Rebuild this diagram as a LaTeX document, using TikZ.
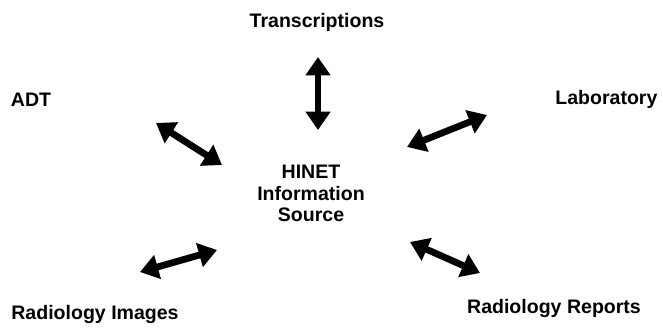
\documentclass[tikz,border=0pt]{standalone}
\usepackage{fontspec}
\setmainfont{Liberation Sans}
\usepackage{tikz}
\usetikzlibrary{arrows.meta, positioning}

\begin{document}
\begin{tikzpicture}[
    labelnode/.style={inner sep=0pt, align=center, font=\fontsize{13.9}{15.3}\selectfont\bfseries},
    arrow/.style={{Triangle[length=13pt, width=17pt]}-{Triangle[length=13pt, width=17pt]}, line width=4.8pt, black}
]
    \useasboundingbox (0,0) rectangle (16.575,-8.225);

    % Central Source
    \node[labelnode] (hinet) at (7.775,-4.84) {HINET\\Information\\Source};

    % Surrounding Systems
    \node[labelnode] (trans) at (7.925,-0.55) {Transcriptions};
    \node[labelnode] (adt) at (0.775,-2.49) {ADT};
    \node[labelnode] (lab) at (15.16,-2.49) {Laboratory};
    \node[labelnode] (radimg) at (2.375,-7.86) {Radiology Images};
    \node[labelnode] (radrep) at (13.85,-7.7) {Radiology Reports};

    % Arrow ends
    \coordinate (adt-a) at (3.9,-3.075);
    \coordinate (adt-b) at (5.55,-4.125);
    \coordinate (trans-a) at (7.95,-1.425);
    \coordinate (trans-b) at (7.95,-3.25);
    \coordinate (lab-a) at (12.175,-2.875);
    \coordinate (lab-b) at (10.175,-3.675);
    \coordinate (radimg-a) at (3.5,-6.8);
    \coordinate (radimg-b) at (5.425,-6.25);
    \coordinate (radrep-a) at (12.0,-6.825);
    \coordinate (radrep-b) at (10.25,-6.05);

    % Exchange Arrows
    \draw[arrow] (adt-a) -- (adt-b);
    \draw[arrow] (trans-a) -- (trans-b);
    \draw[arrow] (lab-a) -- (lab-b);
    \draw[arrow] (radimg-a) -- (radimg-b);
    \draw[arrow] (radrep-a) -- (radrep-b);
\end{tikzpicture}
\end{document}
